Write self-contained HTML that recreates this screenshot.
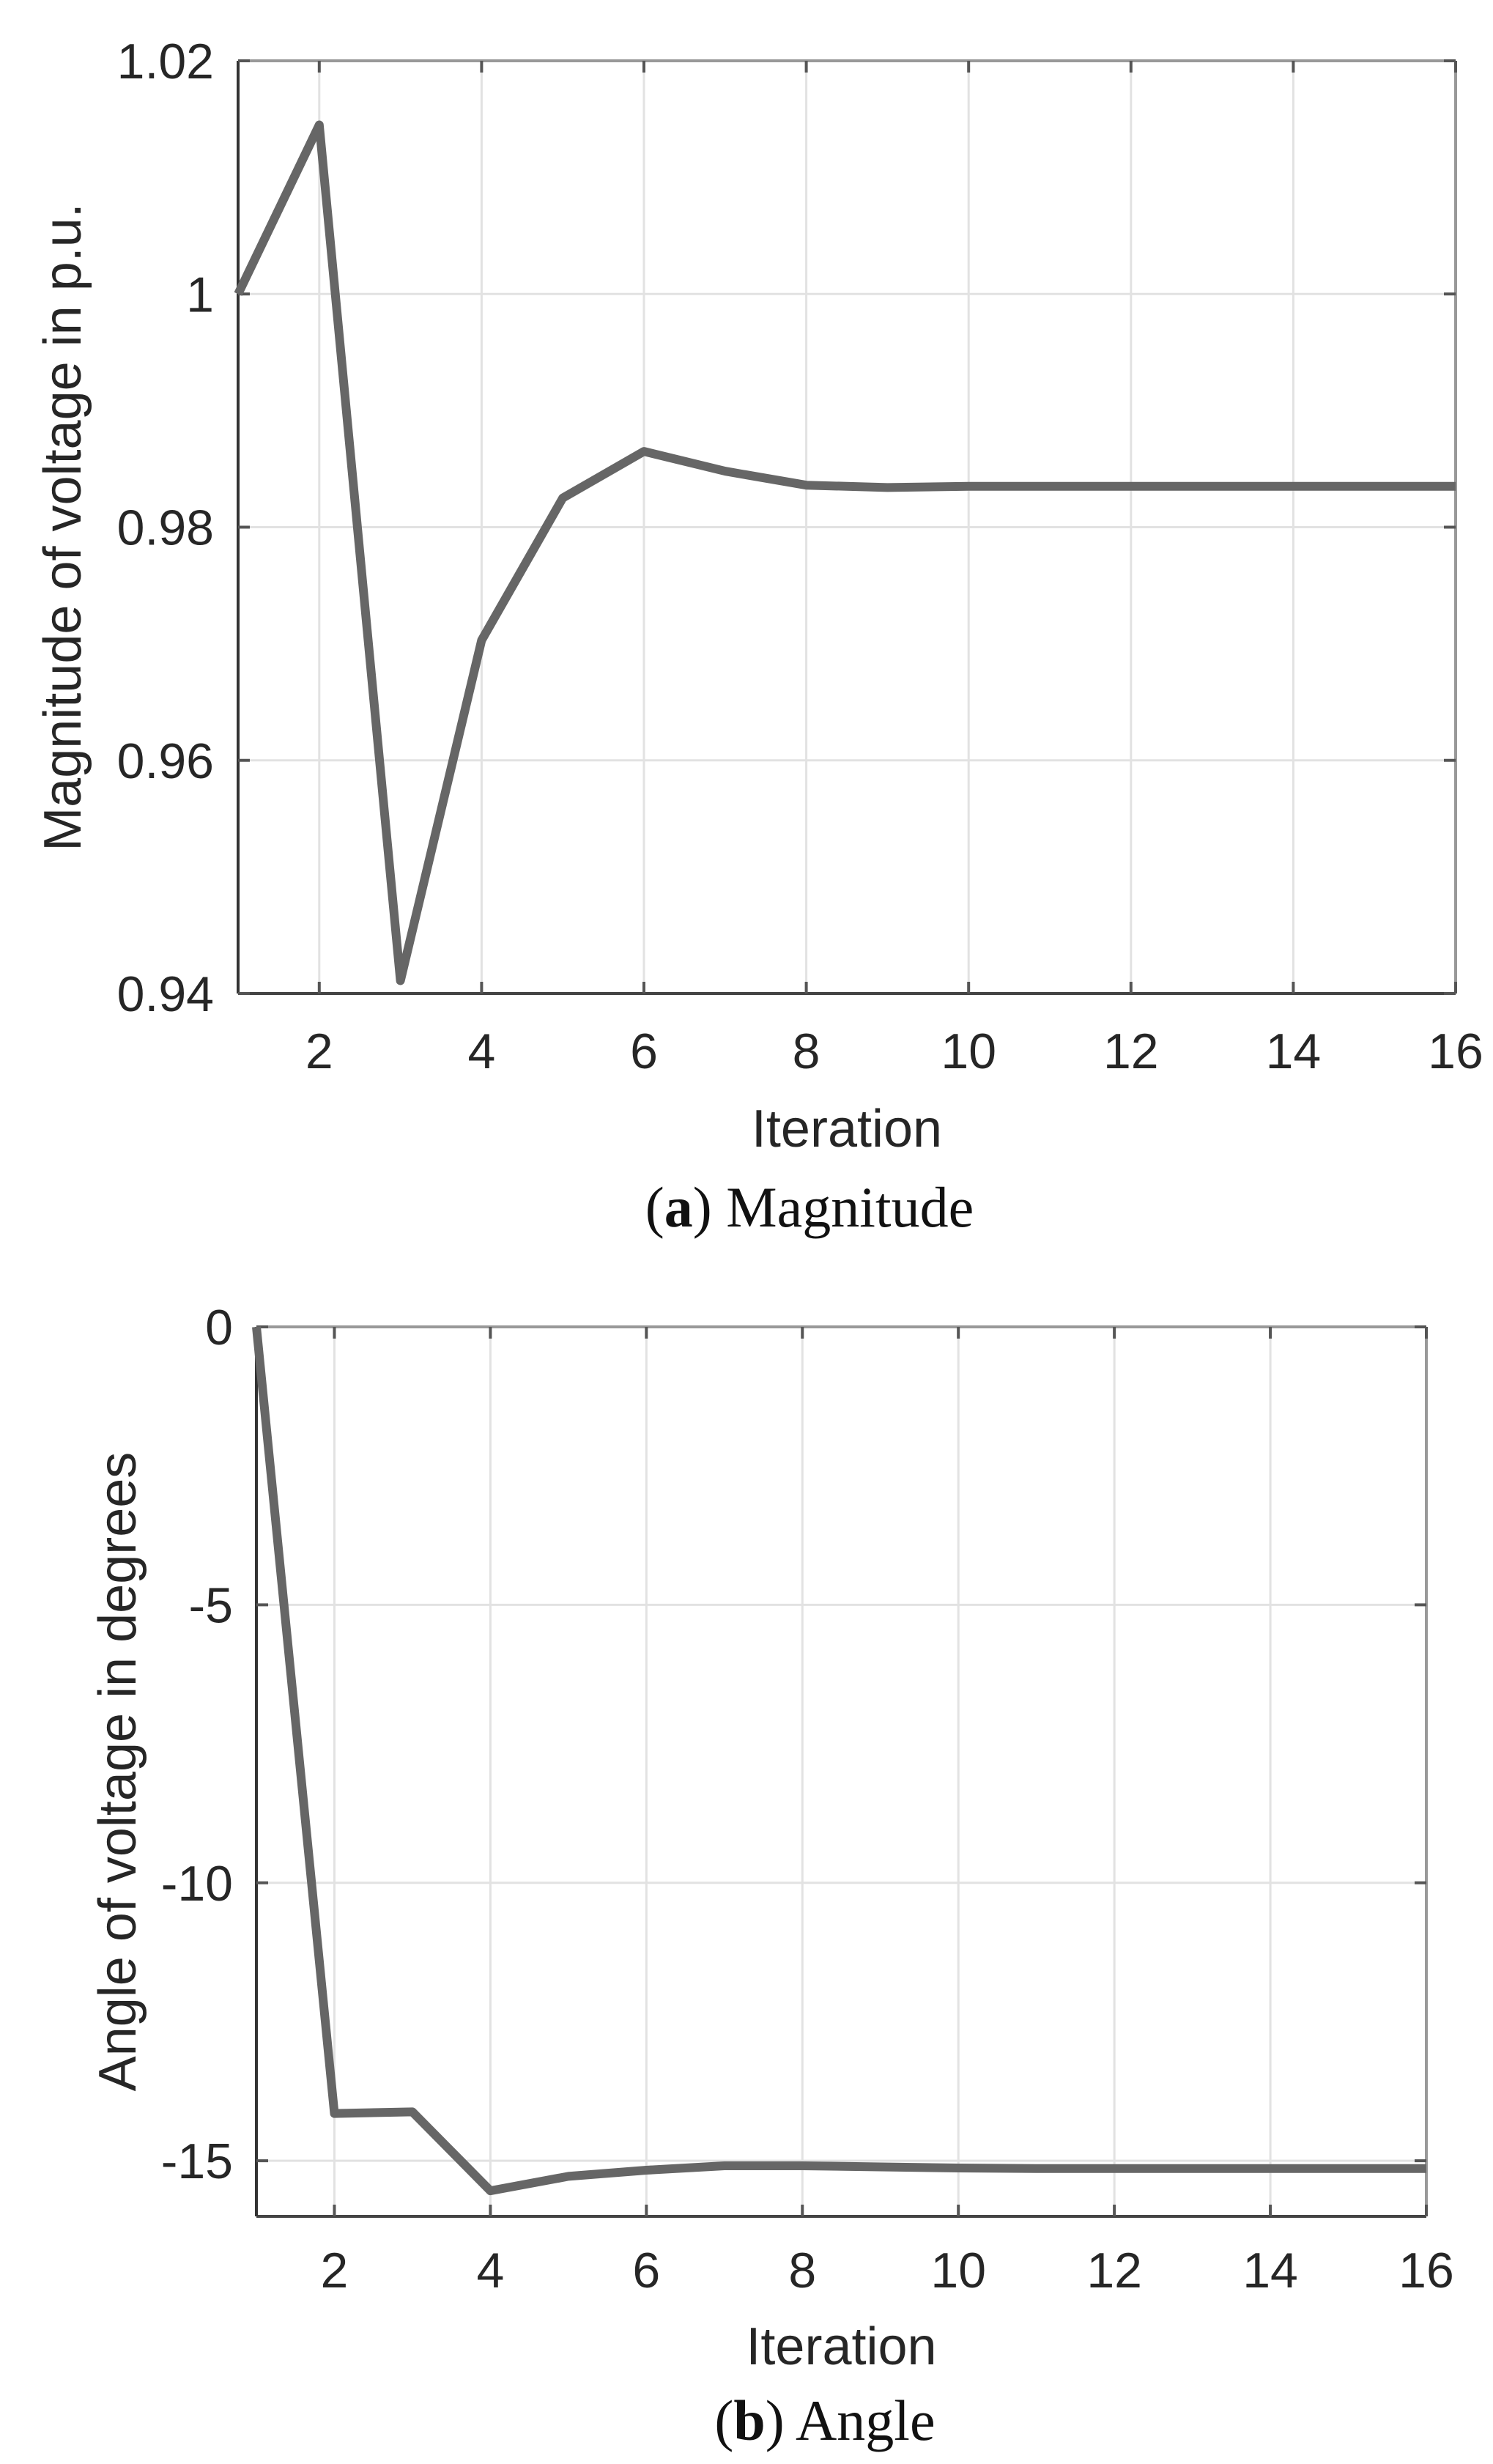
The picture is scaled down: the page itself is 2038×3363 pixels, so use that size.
<!DOCTYPE html>
<html><head><meta charset="utf-8"><style>
html,body{margin:0;padding:0;background:#fff;}
svg{display:block;}
text{font-family:"Liberation Sans",sans-serif;fill:#262626;}
.cap{font-family:"Liberation Serif",serif;fill:#111;}
</style></head><body>
<svg id="fig" width="2038" height="3363" viewBox="0 0 2038 3363" xmlns="http://www.w3.org/2000/svg"></svg>
<script>
const iterations = [1,2,3,4,5,6,7,8,9,10,11,12,13,14,15,16];
const magnitudeValues = [1.0, 1.0145, 0.9411, 0.9703, 0.9825, 0.9865, 0.9848, 0.9836, 0.9834, 0.9835, 0.9835, 0.9835, 0.9835, 0.9835, 0.9835, 0.9835];
const angleValues = [0, -14.15, -14.12, -15.54, -15.28, -15.17, -15.09, -15.09, -15.11, -15.13, -15.14, -15.14, -15.14, -15.14, -15.14, -15.14];
const xTicks = [2,4,6,8,10,12,14,16];
const magTicks = [0.94,0.96,0.98,1.0,1.02];
const magTickLabels = ["0.94","0.96","0.98","1","1.02"];
const angTicks = [-15,-10,-5,0];
const angTickLabels = ["-15","-10","-5","0"];

const NS="http://www.w3.org/2000/svg";
const svg=document.getElementById('fig');
function mk(tag,attrs,parent){const e=document.createElementNS(NS,tag);for(const k in attrs)e.setAttribute(k,attrs[k]);(parent||svg).appendChild(e);return e;}

function panel(cfg){
  const g=mk('g',{});
  
  
  const {L,R,T,B,xmin,xmax,ymin,ymax}=cfg;
  const sx=v=>L+(v-xmin)/(xmax-xmin)*(R-L);
  const sy=v=>B-(v-ymin)/(ymax-ymin)*(B-T);
  xTicks.forEach(t=>{const l=mk('line',{x1:sx(t),x2:sx(t),y1:T,y2:B,stroke:'#e2e2e2','stroke-width':3},g);
    });
  cfg.yTicks.forEach(t=>{const l=mk('line',{x1:L,x2:R,y1:sy(t),y2:sy(t),stroke:'#e2e2e2','stroke-width':3},g);
    });
  mk('line',{x1:L,x2:R,y1:T,y2:T,stroke:'#999','stroke-width':4},g);
  mk('line',{x1:R,x2:R,y1:T,y2:B,stroke:'#999','stroke-width':4},g);
  const xa=mk('line',{x1:L,x2:R,y1:B,y2:B,stroke:'#444','stroke-width':4},g);
  
  const ya=mk('line',{x1:L,x2:L,y1:T,y2:B,stroke:'#333','stroke-width':4},g);
  
  xTicks.forEach(t=>{
    mk('line',{x1:sx(t),x2:sx(t),y1:B,y2:B-16,stroke:'#555','stroke-width':4},g);
    mk('line',{x1:sx(t),x2:sx(t),y1:T,y2:T+16,stroke:'#555','stroke-width':4},g);
    const tx=mk('text',{x:sx(t),y:cfg.xLabelY,'text-anchor':'middle','font-size':68},g);
    tx.textContent=t;
  });
  cfg.yTicks.forEach((t,i)=>{
    mk('line',{x1:L,x2:L+16,y1:sy(t),y2:sy(t),stroke:'#555','stroke-width':4},g);
    mk('line',{x1:R,x2:R-16,y1:sy(t),y2:sy(t),stroke:'#555','stroke-width':4},g);
    const tx=mk('text',{x:cfg.yLabelX,y:sy(t)+24,'text-anchor':'end','font-size':68},g);
    tx.textContent=cfg.yTickLabels[i];
  });
  const d=iterations.map((x,i)=>(i?'L':'M')+sx(x).toFixed(1)+','+sy(cfg.values[i]).toFixed(1)).join(' ');
  const p=mk('path',{d:d,fill:'none',stroke:'#666','stroke-width':12,'stroke-linejoin':'round'},g);
  
  const xt=mk('text',{x:(L+R)/2,y:cfg.xTitleY,'text-anchor':'middle','font-size':72},g);
  xt.textContent='Iteration';
  const yc=(T+B)/2;
  const yt=mk('text',{x:cfg.yTitleX,y:yc,'text-anchor':'middle','font-size':72,transform:`rotate(-90 ${cfg.yTitleX} ${yc})`},g);
  yt.textContent=cfg.yTitle;
  const cp=mk('text',{x:cfg.capX,y:cfg.capY,'text-anchor':'middle','font-size':78,'class':'cap'},g);
  
  cp.innerHTML='(<tspan font-weight="bold">'+cfg.capLetter+'</tspan>) '+cfg.capText;
}

panel({name:'magnitude-chart',L:325,R:1987,T:83,B:1356,xmin:1,xmax:16,ymin:0.94,ymax:1.02,
  yTicks:magTicks,yTickLabels:magTickLabels,values:magnitudeValues,seriesName:'magnitude-line',
  xLabelY:1458,yLabelX:292,xTitleY:1565,yTitleX:110,yTitle:'Magnitude of voltage in p.u.',
  capX:1105,capY:1674,capLetter:'a',capText:'Magnitude'});
panel({name:'angle-chart',L:350,R:1947,T:1811,B:3025,xmin:1,xmax:16,ymin:-16,ymax:0,
  yTicks:angTicks,yTickLabels:angTickLabels,values:angleValues,seriesName:'angle-line',
  xLabelY:3122,yLabelX:318,xTitleY:3227,yTitleX:185,yTitle:'Angle of voltage in degrees',
  capX:1126,capY:3330,capLetter:'b',capText:'Angle'});
</script>
</body></html>
